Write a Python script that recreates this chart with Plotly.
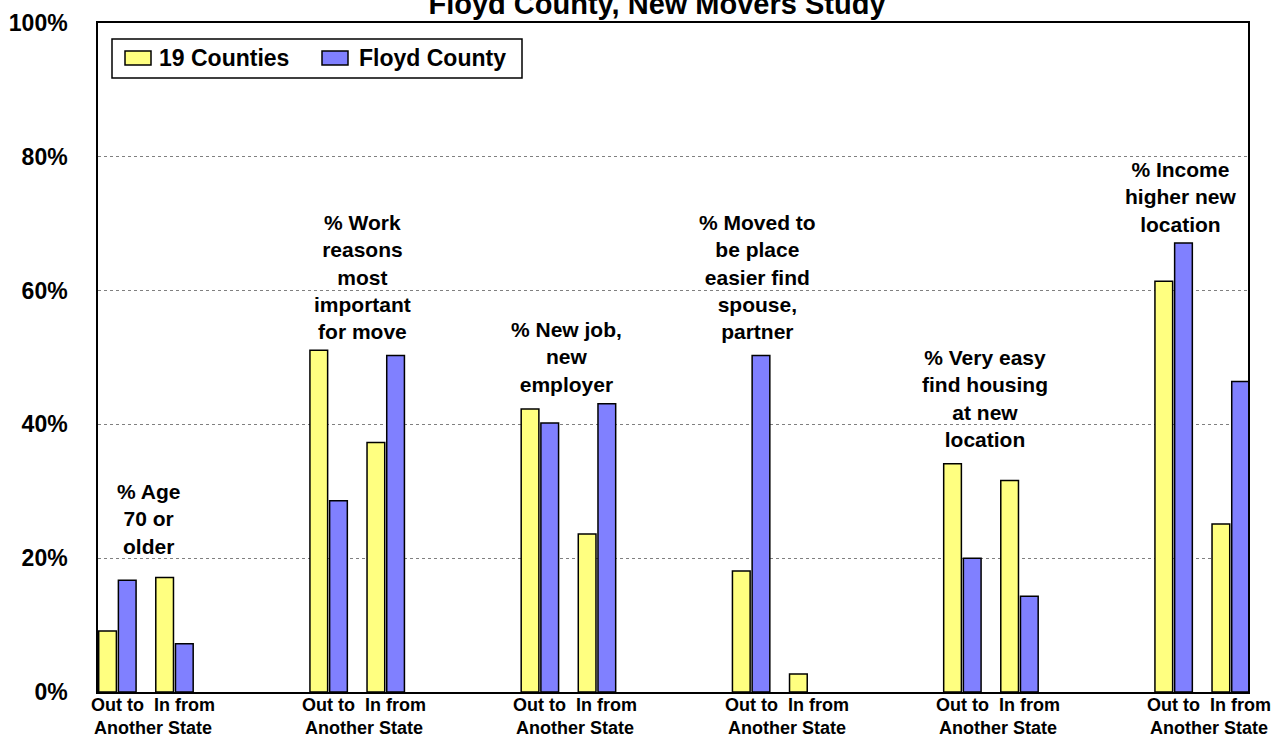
import plotly.graph_objects as go

# Survey measures (one cluster per measure)
measures = [
    "% Age<br>70 or<br>older",
    "% Work<br>reasons<br>most<br>important<br>for move",
    "% New job,<br>new<br>employer",
    "% Moved to<br>be place<br>easier find<br>spouse,<br>partner",
    "% Very easy<br>find housing<br>at new<br>location",
    "% Income<br>higher new<br>location",
]
directions = ["Out to", "In from"]
series_names = ["19 Counties", "Floyd County"]

# Percent values: [Out to Another State, In from Another State] per measure
counties19_out = [9.1, 51.1, 42.3, 18.1, 34.1, 61.4]
counties19_in = [17.1, 37.3, 23.6, 2.7, 31.6, 25.1]
floyd_out = [16.7, 28.6, 40.2, 50.3, 20.0, 67.1]
floyd_in = [7.2, 50.3, 43.1, 0.0, 14.3, 46.4]

y_ticks = [0, 20, 40, 60, 80, 100]
y_tick_text = ["0%", "20%", "40%", "60%", "80%", "100%"]

# Cluster layout (x in units of one sub-category step)
STEP = 3.7
n = len(measures)
x_positions = []
for g in range(n):
    x_positions += [g * STEP, g * STEP + 1]

yellow_vals = []
blue_vals = []
for g in range(n):
    yellow_vals += [counties19_out[g], counties19_in[g]]
    blue_vals += [floyd_out[g], floyd_in[g]]

FONT = "Liberation Sans, Arial, sans-serif"
BAR_W = 0.31
COLORS = ["#FFFF80", "#8080FF"]


def outline_widths(vals):
    # no outline on zero-height bars
    return [1.5 if v > 0 else 0 for v in vals]


fig = go.Figure()
fig.add_trace(go.Bar(
    name=series_names[0], x=x_positions, y=yellow_vals,
    width=BAR_W, offset=-0.33, showlegend=False,
    marker=dict(color=COLORS[0],
                line=dict(color="#000000", width=outline_widths(yellow_vals))),
))
fig.add_trace(go.Bar(
    name=series_names[1], x=x_positions, y=blue_vals,
    width=BAR_W, offset=0.015, showlegend=False,
    marker=dict(color=COLORS[1],
                line=dict(color="#000000", width=outline_widths(blue_vals))),
))

# Measure captions above each cluster
note_shift = [0.035, 0.09, -0.035, -0.385, -0.105, -0.37]
note_y = [25.8, 62.1, 50.1, 62.1, 43.9, 74.0]
annotations = []
for g in range(n):
    annotations.append(dict(
        x=g * STEP + 0.5 + note_shift[g], y=note_y[g], xref="x", yref="y",
        text="<b>" + measures[g] + "</b>", showarrow=False,
        xanchor="center", yanchor="middle", align="center",
        font=dict(family=FONT, size=21, color="#000000"),
    ))
    # Sub-category labels under each cluster
    annotations.append(dict(
        x=g * STEP + 0.62, y=0, xref="x", yref="paper",
        text="<b>" + directions[0] + "\u00a0\u00a0" + directions[1]
             + "<br>Another State</b>",
        showarrow=False, xanchor="center", yanchor="top", align="center",
        yshift=-1,
        font=dict(family=FONT, size=18, color="#000000"),
    ))

# Legend box drawn in paper coordinates
PLOT_L, PLOT_W, PLOT_B, PLOT_H = 98, 1150, 692, 669


def px_x(p):
    return (p - PLOT_L) / PLOT_W


def px_y(p):
    return (PLOT_B - p) / PLOT_H


shapes = [dict(
    type="rect", xref="paper", yref="paper",
    x0=px_x(112), x1=px_x(522), y0=px_y(78), y1=px_y(39),
    fillcolor="#FFFFFF", line=dict(color="#000000", width=1.5), layer="above",
)]
swatch_left = [125, 322]
label_left = [159, 359]
for i in range(2):
    shapes.append(dict(
        type="rect", xref="paper", yref="paper",
        x0=px_x(swatch_left[i]), x1=px_x(swatch_left[i] + 26),
        y0=px_y(65), y1=px_y(51),
        fillcolor=COLORS[i], line=dict(color="#000000", width=1.5), layer="above",
    ))
    annotations.append(dict(
        x=px_x(label_left[i]), y=px_y(58), xref="paper", yref="paper",
        text="<b>" + series_names[i] + "</b>", showarrow=False,
        xanchor="left", yanchor="middle", xshift=-2,
        font=dict(family=FONT, size=23, color="#000000"),
    ))

fig.update_layout(
    width=1282, height=734,
    margin=dict(l=98, r=34, t=23, b=42, autoexpand=False),
    paper_bgcolor="#FFFFFF", plot_bgcolor="#FFFFFF",
    barmode="overlay",
    title=dict(
        text="<b>Floyd County, New Movers Study</b>",
        x=657 / 1282, xanchor="center", xref="container",
        y=1 - 4 / 734, yanchor="middle", yref="container",
        font=dict(family=FONT, size=29, color="#000000"),
    ),
    showlegend=False,
    annotations=annotations,
    shapes=shapes,
    xaxis=dict(
        range=[-0.342, 19.80], showgrid=False, zeroline=False,
        showticklabels=False, ticks="", automargin=False,
        showline=True, linecolor="#000000", linewidth=2, mirror=True,
        fixedrange=True,
    ),
    yaxis=dict(
        range=[0, 100], tickvals=y_ticks, ticktext=[f"<b>{t}</b>" for t in y_tick_text],
        showgrid=True, gridcolor="#808080", gridwidth=1, griddash="dot",
        zeroline=False, ticks="", ticklabelstandoff=24, automargin=False,
        tickfont=dict(family=FONT, size=23, color="#000000"),
        showline=True, linecolor="#000000", linewidth=1.5, mirror=True,
        fixedrange=True,
    ),
)

fig.write_html("out.html")
